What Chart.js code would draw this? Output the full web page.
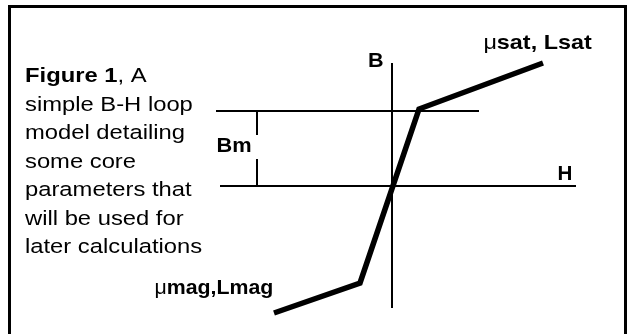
<!DOCTYPE html>
<html>
<head>
<meta charset="utf-8">
<script src="https://cdn.jsdelivr.net/npm/chart.js@4/dist/chart.umd.min.js"></script>
<style>
  html, body { margin: 0; padding: 0; background: #fff; overflow: hidden; }
  #wrap { position: absolute; left: 0; top: 0; width: 629px; height: 334px; }
  #frame { position: absolute; left: 8px; top: 5px; width: 613px; height: 400px;
           border: 3px solid #000; pointer-events: none; }
</style>
</head>
<body>
<div id="wrap"><canvas id="c"></canvas></div>
<div id="frame"></div>
<script>
// ---- data (H and B in arbitrary model units, origin at axis crossing) ----
const curveH = [-11.8, -3.2, 2.7, 15.1];
const curveB = [-12.7, -9.7, 7.7, 12.3];
const hAxisRange = [-17.2, 18.4];
const bAxisRange = [12.3, -12.2];
const bmLevel = 7.5;
const bmLineRange = [-17.6, 8.7];
const bmTickH = -13.5;
const bmTickUpper = [7.5, 5.1];
const bmTickLower = [2.7, 0];
const captionLines = [
  [["Figure 1", true], [", A", false]],
  [["simple B-H loop", false]],
  [["model detailing", false]],
  [["some core", false]],
  [["parameters that", false]],
  [["will be used for", false]],
  [["later calculations", false]]
];
const axisLabels = ["B", "H", "Bm"];
const pointLabels = ["sat, Lsat", "mag,Lmag"];

const FONT = '"Liberation Sans", Arial, sans-serif';

function seg(xs, ys) { return xs.map((x, i) => ({ x: x, y: ys[i] })); }

const lineDs = (data, w) => ({
  data: data, showLine: true, borderColor: '#000', backgroundColor: '#000',
  borderWidth: w, pointRadius: 0, borderJoinStyle: 'miter', borderCapStyle: 'butt',
  tension: 0, clip: false
});

function drawParts(ctx, parts, x, y, size, sx) {
  ctx.save();
  ctx.translate(x, y);
  ctx.scale(sx, 1);
  let cx = 0;
  for (const [t, bold] of parts) {
    ctx.font = (bold ? 'bold ' : '') + size + 'px ' + FONT;
    ctx.fillText(t, cx, 0);
    cx += ctx.measureText(t).width;
  }
  ctx.restore();
}

const textPlugin = {
  id: 'texts',
  afterDraw(chart) {
    const ctx = chart.ctx;
    const xs = chart.scales.x, ys = chart.scales.y;
    const px = v => xs.getPixelForValue(v), py = v => ys.getPixelForValue(v);
    ctx.save();
    ctx.fillStyle = '#000';
    ctx.textBaseline = 'alphabetic';
    ctx.textAlign = 'left';
    // caption
    captionLines.forEach((parts, i) => {
      drawParts(ctx, parts, 25, 82 + i * 28.5, 20.5, 1.16);
    });
    // axis labels (anchored in data units)
    drawParts(ctx, [[axisLabels[0], true]], px(-2.4), py(11.9), 20, 1.08);
    drawParts(ctx, [[axisLabels[1], true]], px(16.55), py(0.65), 20, 1.03);
    drawParts(ctx, [[axisLabels[2], true]], px(-17.54), py(3.45), 20, 1.09);
    drawParts(ctx, [["\u03bc", false], [pointLabels[0], true]], px(9.14), py(13.7), 20.5, 1.14);
    drawParts(ctx, [["\u03bc", false], [pointLabels[1], true]], px(-23.76), py(-10.75), 20.5, 1.04);
    ctx.restore();
  }
};

new Chart(document.getElementById('c'), {
  type: 'scatter',
  data: {
    datasets: [
      lineDs(seg(hAxisRange, [0, 0]), 2),
      lineDs(seg([0, 0], bAxisRange), 2),
      lineDs(seg(bmLineRange, [bmLevel, bmLevel]), 2),
      lineDs(seg([bmTickH, bmTickH], bmTickUpper), 2),
      lineDs(seg([bmTickH, bmTickH], bmTickLower), 2),
      lineDs(seg(curveH, curveB), 5.5)
    ]
  },
  options: {
    responsive: true,
    maintainAspectRatio: false,
    animation: false,
    layout: { padding: 0 },
    plugins: { legend: { display: false }, tooltip: { enabled: false } },
    scales: {
      x: { type: 'linear', display: false, min: -39.2, max: 23.7 },
      y: { type: 'linear', display: false, min: -14.8, max: 18.6 }
    }
  },
  plugins: [textPlugin]
});
</script>
</body>
</html>
